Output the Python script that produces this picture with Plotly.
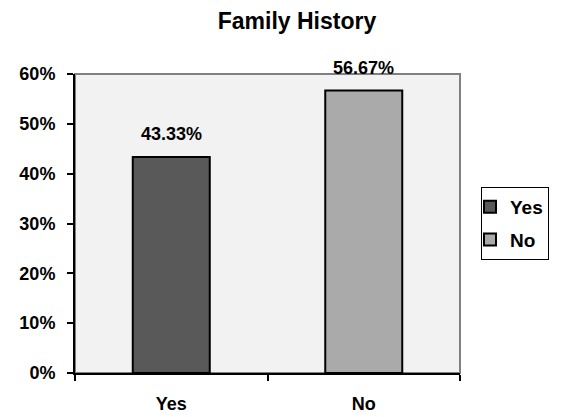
import plotly.graph_objects as go

categories = ["Yes", "No"]
values = [43.33, 56.67]
labels = ["43.33%", "56.67%"]
colors = ["#595959", "#aaaaaa"]
y_ticks = [0, 10, 20, 30, 40, 50, 60]
y_tick_text = ["0%", "10%", "20%", "30%", "40%", "50%", "60%"]

FONT = "Liberation Sans, Arial, sans-serif"

fig = go.Figure()
for c, v, col in zip(categories, values, colors):
    fig.add_trace(go.Bar(
        x=[c], y=[v], name="<b>%s</b>" % c, width=0.4, legendgroup=c,
        marker=dict(color=col, line=dict(color="black", width=2)),
        hoverinfo="skip",
    ))

for c, v, t in zip(categories, values, labels):
    fig.add_annotation(x=c, y=v, text="<b>%s</b>" % t, showarrow=False,
                       yanchor="bottom", yshift=11,
                       font=dict(family=FONT, size=18, color="black"))

# plot-area frame (gray top/right)
fig.add_shape(type="rect", xref="x domain", yref="y domain", x0=0, x1=1, y0=0, y1=1,
              line=dict(color="#808080", width=2), layer="below")

fig.update_layout(
    width=561, height=417,
    margin=dict(l=75, r=101, t=74, b=44, autoexpand=False),
    paper_bgcolor="white", plot_bgcolor="#f2f2f2",
    font=dict(family=FONT, size=18, color="black"),
    title=dict(text="<b>Family History</b>", x=297/561, xanchor="center",
               y=1 - 21/417, yanchor="middle",
               font=dict(family=FONT, size=23, color="black")),
    showlegend=True,
    legend=dict(x=481/561, xref="container", y=1 - 187/417, yref="container",
                xanchor="left", yanchor="top",
                bordercolor="black", borderwidth=1, bgcolor="white",
                font=dict(family=FONT, size=19, color="black"),
                itemwidth=30, tracegroupgap=5, indentation=-12),
)
fig.update_xaxes(type="category", range=[-0.5, 1.5], showline=True, linecolor="black", linewidth=2,
                 ticks="outside", tickson="boundaries", ticklen=6, tickcolor="black", tickwidth=2,
                 tickfont=dict(family=FONT, size=18, color="black"), automargin=False,
                 ticklabelstandoff=13, showgrid=False, zeroline=False,
                 tickvals=categories, ticktext=["<b>%s</b>" % c for c in categories])
fig.update_yaxes(range=[0, 60], showline=True, linecolor="black", linewidth=2,
                 ticks="outside", ticklen=6, tickcolor="black", tickwidth=2, automargin=False,
                 tickvals=y_ticks, ticktext=["<b>%s</b>" % t for t in y_tick_text],
                 tickfont=dict(family=FONT, size=18, color="black"),
                 showgrid=False, zeroline=False, ticklabelstandoff=8)

fig.write_html("out.html")
